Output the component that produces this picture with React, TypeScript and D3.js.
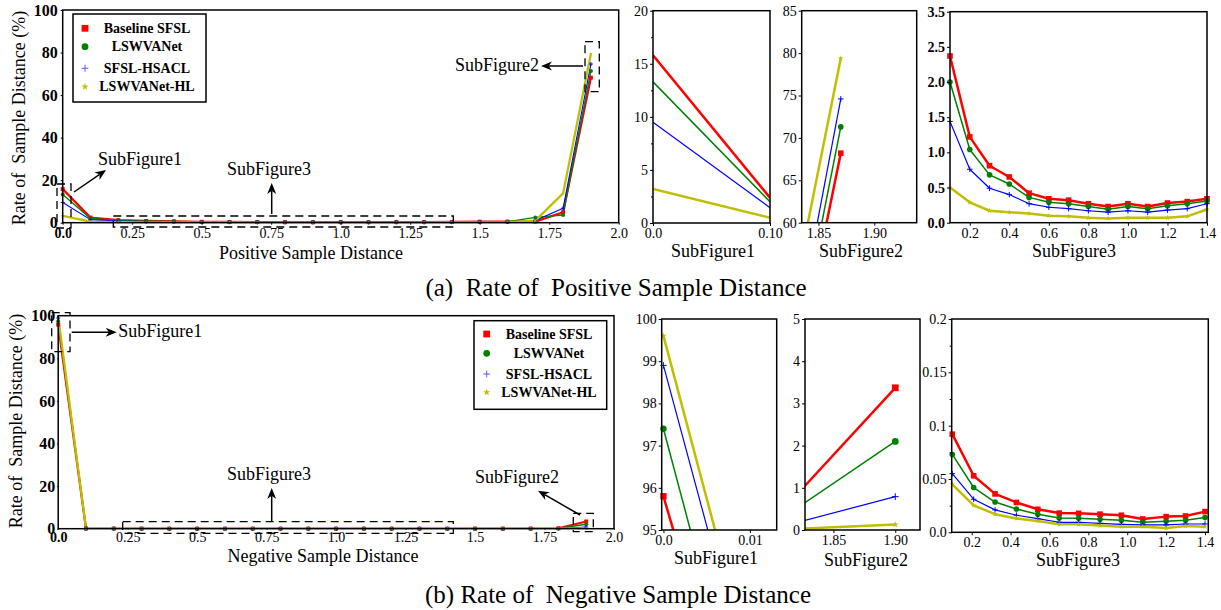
import React, { useRef, useEffect } from 'react';
import * as d3 from 'd3';

const seriesNames = ['Baseline SFSL', 'LSWVANet', 'SFSL-HSACL', 'LSWVANet-HL'];
const seriesColors = ['#ff0000', '#008000', '#0000ff', '#bfbf00'];
const lineWidths = [2.5, 1.5, 1.2, 2.5];
const markerShapes = ['square', 'circle', 'plus', 'star'];

// distance bins of the main panels
const distance = [0.0, 0.1, 0.2, 0.3, 0.4, 0.5, 0.6, 0.7, 0.8, 0.9, 1.0, 1.1, 1.2, 1.3, 1.4, 1.5, 1.6, 1.7, 1.8, 1.9];

// (a) positive sample distance, rate in %
const posBaseline = [15.8, 2.37, 1.22, 0.81, 0.65, 0.42, 0.34, 0.32, 0.27, 0.23, 0.27, 0.23, 0.28, 0.3, 0.34, 0.45, 0.5, 0.5, 4.9, 68.2];
const posLswva = [13.3, 2.0, 1.04, 0.68, 0.55, 0.36, 0.29, 0.27, 0.23, 0.19, 0.23, 0.2, 0.24, 0.27, 0.31, 0.4, 0.45, 2.5, 3.6, 71.3];
const posHsacl = [9.5, 1.44, 0.76, 0.49, 0.4, 0.27, 0.22, 0.2, 0.17, 0.15, 0.17, 0.15, 0.18, 0.2, 0.27, 0.3, 0.35, 1.0, 6.8, 74.6];
const posHl = [3.2, 0.5, 0.29, 0.17, 0.15, 0.13, 0.1, 0.09, 0.07, 0.06, 0.07, 0.07, 0.07, 0.09, 0.19, 0.2, 0.3, 1.0, 13.8, 79.4];

// subfigure 2 of (a) was plotted on its own x positions
const posSub2X = [1.8, 1.87];
const posSub2Baseline = [23.0, 68.2];
const posSub2Lswva = [24.7, 71.3];
const posSub2Hsacl = [26.0, 74.6];
const posSub2Hl = [33.3, 79.4];

// (b) negative sample distance, rate in %
const negBaseline = [95.8, 0.092, 0.053, 0.036, 0.028, 0.022, 0.018, 0.018, 0.017, 0.016, 0.013, 0.015, 0.015, 0.019, 0.02, 0.02, 0.03, 0.05, 0.19, 3.37];
const negLswva = [97.4, 0.073, 0.042, 0.028, 0.022, 0.017, 0.013, 0.013, 0.012, 0.011, 0.009, 0.01, 0.011, 0.014, 0.015, 0.015, 0.02, 0.03, 0.11, 2.1];
const negHsacl = [98.9, 0.055, 0.031, 0.021, 0.016, 0.013, 0.009, 0.009, 0.008, 0.0075, 0.007, 0.007, 0.008, 0.008, 0.01, 0.01, 0.01, 0.01, 0.02, 0.79];
const negHl = [99.6, 0.045, 0.025, 0.017, 0.013, 0.011, 0.0075, 0.0075, 0.006, 0.005, 0.005, 0.004, 0.006, 0.005, 0.005, 0.005, 0.005, 0.005, 0.0, 0.13];

// subfigure 1 of (b): first point and the value the line reaches at 0.01
const negSub1X = [0.0, 0.01];
const negSub1Baseline = [95.8, 88.8];
const negSub1Lswva = [97.4, 89.7];
const negSub1Hsacl = [98.9, 91.3];
const negSub1Hl = [99.6, 91.9];

// subfigure 3 of (b): 13 points spread over 0.1 .. 1.4
const negSub3X = [0.1, 0.21, 0.32, 0.43, 0.54, 0.65, 0.75, 0.86, 0.97, 1.08, 1.2, 1.3, 1.4];
const negSub3Baseline = [0.092, 0.053, 0.036, 0.028, 0.0216, 0.018, 0.0178, 0.017, 0.016, 0.0125, 0.0147, 0.0153, 0.0194];
const negSub3Lswva = [0.073, 0.042, 0.0284, 0.0219, 0.0169, 0.0134, 0.0131, 0.0122, 0.0113, 0.0094, 0.0103, 0.0113, 0.0138];
const negSub3Hsacl = [0.055, 0.031, 0.021, 0.016, 0.0128, 0.0094, 0.0094, 0.0084, 0.0075, 0.0069, 0.0069, 0.0078, 0.0078];
const negSub3Hl = [0.045, 0.0253, 0.017, 0.013, 0.0106, 0.0075, 0.0075, 0.0063, 0.0053, 0.0053, 0.004, 0.006, 0.0053];

// ticks
const mainXTicks = [0, 0.25, 0.5, 0.75, 1.0, 1.25, 1.5, 1.75, 2.0];
const mainXLabels = ['0.0', '0.25', '0.5', '0.75', '1.0', '1.25', '1.5', '1.75', '2.0'];
const mainYTicks = [0, 20, 40, 60, 80, 100];
const sub3XTicks = [0.2, 0.4, 0.6, 0.8, 1.0, 1.2, 1.4];
const sub3XLabels = ['0.2', '0.4', '0.6', '0.8', '1.0', '1.2', '1.4'];
const posSub3YTicks = [0, 0.5, 1.0, 1.5, 2.0, 2.5, 3.0];
const posSub3YLabels = ['0.0', '0.5', '1.0', '1.5', '2.0', '2.5', '3.5'];
const negSub3YTicks = [0, 0.05, 0.1, 0.15, 0.2];
const negSub3YLabels = ['0.0', '0.05', '0.1', '0.15', '0.2'];

const FONT = '"Liberation Serif", "Times New Roman", serif';

type Panel = {
  id: string;
  box: number[];
  xDomain: number[];
  yDomain: number[];
  xs: number[];
  ys: number[][];
  xTicks: number[];
  xLabels: string[];
  yTicks: number[];
  yLabels: string[];
  yMinor?: number[];
  markerR: number;
  tickFont: number;
  yFont?: number;
  yBold?: boolean;
  firstXBold?: boolean;
  lineScale?: number;
  tickLen?: number;
  pad?: number;
};

function drawMarker(g: any, shape: string, cx: number, cy: number, r: number, color: string) {
  if (shape === 'plus') {
    g.append('path')
      .attr('d', `M${cx - r},${cy}H${cx + r}M${cx},${cy - r}V${cy + r}`)
      .attr('stroke', color)
      .attr('stroke-width', 1);
    return;
  }
  let sym = d3.symbolSquare;
  let area = 4 * r * r;
  if (shape === 'circle') { sym = d3.symbolCircle; area = Math.PI * r * r; }
  if (shape === 'star') { sym = d3.symbolStar; area = (r * r * 1.1) / 0.89; }
  g.append('path')
    .attr('d', d3.symbol(sym, area)())
    .attr('transform', `translate(${cx},${cy})`)
    .attr('fill', color);
}

function drawPanel(svg: any, p: Panel) {
  const [l, r, t, b] = p.box;
  const x = d3.scaleLinear().domain(p.xDomain).range([l, r]);
  const y = d3.scaleLinear().domain(p.yDomain).range([b, t]);
  const tickLen = p.tickLen ?? 3;
  const pad = p.pad ?? 2;

  svg.append('defs').append('clipPath').attr('id', 'clip-' + p.id)
    .append('rect').attr('x', l).attr('y', t).attr('width', r - l).attr('height', b - t);

  const lineGen = d3.line<number[]>().x(d => x(d[0])).y(d => y(d[1]));
  const lines = svg.append('g').attr('clip-path', `url(#clip-${p.id})`);
  p.ys.forEach((vals, i) => {
    const pts = p.xs.map((v, j) => [v, vals[j]]);
    lines.append('path')
      .datum(pts)
      .attr('d', lineGen)
      .attr('fill', 'none')
      .attr('stroke', seriesColors[i])
      .attr('stroke-width', lineWidths[i] * (p.lineScale ?? 1))
      .attr('stroke-linejoin', 'round');
  });

  if (p.markerR > 0) {
    const mg = svg.append('g');
    const [x0, x1] = p.xDomain;
    const [y0, y1] = p.yDomain;
    p.ys.forEach((vals, i) => {
      p.xs.forEach((v, j) => {
        if (v < x0 - 1e-9 || v > x1 + 1e-9 || vals[j] < y0 || vals[j] > y1) return;
        drawMarker(mg, markerShapes[i], x(v), y(vals[j]), p.markerR, seriesColors[i]);
      });
    });
  }

  svg.append('rect')
    .attr('x', l).attr('y', t).attr('width', r - l).attr('height', b - t)
    .attr('fill', 'none').attr('stroke', '#000').attr('stroke-width', 1.5);

  const xAxis = svg.append('g')
    .attr('transform', `translate(0,${b})`)
    .call(d3.axisBottom(x).tickValues(p.xTicks).tickFormat((_d: any, i: number) => p.xLabels[i]).tickSize(tickLen).tickPadding(pad));
  const yAxis = svg.append('g')
    .attr('transform', `translate(${l},0)`)
    .call(d3.axisLeft(y).tickValues(p.yTicks).tickFormat((_d: any, i: number) => p.yLabels[i]).tickSize(tickLen).tickPadding(pad));
  [xAxis, yAxis].forEach(ax => {
    ax.select('.domain').remove();
    ax.selectAll('line').attr('stroke', '#000').attr('stroke-width', 1);
    ax.selectAll('text').attr('fill', '#000').style('font-family', FONT).style('font-size', `${p.tickFont}px`);
  });
  if (p.yFont) yAxis.selectAll('text').style('font-size', `${p.yFont}px`);
  if (p.yBold) yAxis.selectAll('text').style('font-weight', 'bold');
  if (p.firstXBold) xAxis.selectAll('text').filter((_d: any, i: number) => i === 0).style('font-weight', 'bold');

  if (p.yMinor) {
    const mAx = svg.append('g')
      .attr('transform', `translate(${l},0)`)
      .call(d3.axisLeft(y).tickValues(p.yMinor).tickFormat(() => '').tickSize(2));
    mAx.select('.domain').remove();
    mAx.selectAll('line').attr('stroke', '#000');
  }
}

function drawLegend(svg: any, bx: number, by: number, bw: number, bh: number, mx: number, tx: number, rows: number[]) {
  svg.append('rect')
    .attr('x', bx).attr('y', by).attr('width', bw).attr('height', bh)
    .attr('fill', '#fff').attr('stroke', '#000').attr('stroke-width', 1.5);
  const g = svg.append('g');
  seriesNames.forEach((name, i) => {
    const color = i === 2 ? '#5a5aff' : seriesColors[i];
    drawMarker(g, markerShapes[i], mx, rows[i], i === 3 ? 3.6 : 3.4, color);
    g.append('text')
      .attr('x', tx).attr('y', rows[i] + 4.5)
      .attr('text-anchor', 'middle')
      .style('font-family', FONT).style('font-size', '14px').style('font-weight', 'bold')
      .text(name);
  });
}

function arrow(svg: any, x1: number, y1: number, x2: number, y2: number) {
  const a = Math.atan2(y2 - y1, x2 - x1);
  const hl = 11;
  const hw = 4.5;
  const c = Math.cos(a);
  const s = Math.sin(a);
  const bx = x2 - hl * c;
  const by = y2 - hl * s;
  const nx = x2 - hl * 0.7 * c;
  const ny = y2 - hl * 0.7 * s;
  svg.append('line')
    .attr('x1', x1).attr('y1', y1).attr('x2', nx).attr('y2', ny)
    .attr('stroke', '#000').attr('stroke-width', 1.5);
  svg.append('path')
    .attr('d', `M${x2},${y2}L${bx + hw * s},${by - hw * c}L${nx},${ny}L${bx - hw * s},${by + hw * c}Z`)
    .attr('fill', '#000');
}

function dashedBox(svg: any, x: number, y: number, w: number, h: number) {
  svg.append('rect')
    .attr('x', x).attr('y', y).attr('width', w).attr('height', h)
    .attr('fill', 'none').attr('stroke', '#000').attr('stroke-width', 1.3)
    .attr('stroke-dasharray', '8,5');
}

function label(svg: any, x: number, y: number, text: string, size: number, anchor = 'middle', rotate = false) {
  const t = svg.append('text')
    .attr('text-anchor', anchor)
    .style('font-family', FONT).style('font-size', `${size}px`)
    .style('white-space', 'pre')
    .attr('fill', '#000')
    .text(text);
  if (rotate) t.attr('transform', `translate(${x},${y}) rotate(-90)`);
  else t.attr('x', x).attr('y', y);
}

const App = () => {
  const svgRef = useRef<SVGSVGElement>(null);

  useEffect(() => {
    const svg = d3.select(svgRef.current);
    svg.selectAll('*').remove();
    svg.append('rect').attr('width', 1221).attr('height', 610).attr('fill', '#fff');

    const pos = [posBaseline, posLswva, posHsacl, posHl];
    const neg = [negBaseline, negLswva, negHsacl, negHl];

    // ---- (a) positive ----
    drawPanel(svg, {
      id: 'a0', box: [62.7, 618.7, 10, 222.7], xDomain: [0, 2], yDomain: [0, 100],
      xs: distance, ys: pos,
      xTicks: mainXTicks, xLabels: mainXLabels,
      yTicks: mainYTicks, yLabels: mainYTicks.map(String),
      markerR: 2, tickFont: 14, yFont: 16, yBold: true, firstXBold: true, lineScale: 0.9,
      tickLen: 2, pad: 3,
    });
    drawPanel(svg, {
      id: 'a1', box: [653, 770, 10.7, 223], xDomain: [0, 0.1], yDomain: [0, 20],
      xs: distance.slice(0, 2), ys: pos.map(s => s.slice(0, 2)),
      xTicks: [0, 0.1], xLabels: ['0.0', '0.10'],
      yTicks: [0, 5, 10, 15, 20], yLabels: ['0', '5', '10', '15', '20'],
      yMinor: [2.5, 7.5, 12.5, 17.5],
      markerR: 0, tickFont: 14,
    });
    drawPanel(svg, {
      id: 'a2', box: [801.7, 916.7, 10.7, 222.7], xDomain: [1.835, 1.938], yDomain: [60, 85],
      xs: posSub2X, ys: [posSub2Baseline, posSub2Lswva, posSub2Hsacl, posSub2Hl],
      xTicks: [1.85, 1.9], xLabels: ['1.85', '1.90'],
      yTicks: [60, 65, 70, 75, 80, 85], yLabels: ['60', '65', '70', '75', '80', '85'],
      markerR: 2.8, tickFont: 14,
    });
    drawPanel(svg, {
      id: 'a3', box: [950, 1207, 11.7, 222.7], xDomain: [0.1, 1.4], yDomain: [0, 3.0],
      xs: distance.slice(1, 15), ys: pos.map(s => s.slice(1, 15)),
      xTicks: sub3XTicks, xLabels: sub3XLabels,
      yTicks: posSub3YTicks, yLabels: posSub3YLabels,
      markerR: 2.8, tickFont: 14, yBold: true,
    });

    drawLegend(svg, 73, 14, 133, 88, 85, 147, [28.3, 46.7, 68.3, 86.7]);

    label(svg, 25, 118, 'Rate of  Sample Distance (%)', 18, 'middle', true);
    label(svg, 311, 259, 'Positive Sample Distance', 18);
    label(svg, 713, 257, 'SubFigure1', 18);
    label(svg, 861, 257, 'SubFigure2', 18);
    label(svg, 1074, 257, 'SubFigure3', 18);
    label(svg, 616, 296, '(a)  Rate of  Positive Sample Distance', 25);

    dashedBox(svg, 57, 184, 14, 44);
    arrow(svg, 74, 192, 106, 170);
    label(svg, 98, 165, 'SubFigure1', 18, 'start');
    dashedBox(svg, 113.3, 216, 340, 11);
    arrow(svg, 271.7, 214, 271.7, 183);
    label(svg, 269, 175, 'SubFigure3', 18);
    dashedBox(svg, 585, 41.7, 14.3, 50);
    arrow(svg, 583, 66, 541, 66);
    label(svg, 539, 71, 'SubFigure2', 18, 'end');

    // ---- (b) negative ----
    drawPanel(svg, {
      id: 'b0', box: [58.2, 614, 315.7, 528.7], xDomain: [0, 2], yDomain: [0, 100],
      xs: distance, ys: neg,
      xTicks: mainXTicks, xLabels: mainXLabels,
      yTicks: mainYTicks, yLabels: mainYTicks.map(String),
      markerR: 2, tickFont: 14, yFont: 16, yBold: true, firstXBold: true, lineScale: 0.9,
      tickLen: 1, pad: 2,
    });
    drawPanel(svg, {
      id: 'b1', box: [661.7, 776.7, 319, 530], xDomain: [-0.0002, 0.0131], yDomain: [95, 100],
      xs: negSub1X, ys: [negSub1Baseline, negSub1Lswva, negSub1Hsacl, negSub1Hl],
      xTicks: [0, 0.01], xLabels: ['0.0', '0.01'],
      yTicks: [95, 96, 97, 98, 99, 100], yLabels: ['95', '96', '97', '98', '99', '100'],
      markerR: 3.2, tickFont: 14,
    });
    drawPanel(svg, {
      id: 'b2', box: [805, 920, 319, 530], xDomain: [1.827, 1.92], yDomain: [0, 5],
      xs: distance.slice(18), ys: neg.map(s => s.slice(18)),
      xTicks: [1.85, 1.9], xLabels: ['1.85', '1.90'],
      yTicks: [0, 1, 2, 3, 4, 5], yLabels: ['0', '1', '2', '3', '4', '5'],
      markerR: 3.4, tickFont: 14,
    });
    drawPanel(svg, {
      id: 'b3', box: [951.7, 1208.3, 319, 532.3], xDomain: [0.097, 1.417], yDomain: [0, 0.2],
      xs: negSub3X, ys: [negSub3Baseline, negSub3Lswva, negSub3Hsacl, negSub3Hl],
      xTicks: sub3XTicks, xLabels: sub3XLabels,
      yTicks: negSub3YTicks, yLabels: negSub3YLabels,
      yMinor: [0.025, 0.075, 0.125, 0.175],
      markerR: 2.8, tickFont: 14,
    });

    drawLegend(svg, 474, 320.7, 132.7, 88.6, 486.7, 549, [334, 353.3, 374, 392.3]);

    label(svg, 22, 421, 'Rate of  Sample Distance (%)', 18, 'middle', true);
    label(svg, 323, 562, 'Negative Sample Distance', 18);
    label(svg, 716, 564, 'SubFigure1', 18);
    label(svg, 866, 566, 'SubFigure2', 18);
    label(svg, 1078, 566, 'SubFigure3', 18);
    label(svg, 618, 603, '(b) Rate of  Negative Sample Distance', 25);

    dashedBox(svg, 51.7, 312.7, 18.3, 39);
    arrow(svg, 71.7, 332.3, 116.7, 332.3);
    label(svg, 118.3, 337, 'SubFigure1', 18, 'start');
    dashedBox(svg, 122.7, 521.7, 330.6, 11.6);
    arrow(svg, 271.7, 521, 271.7, 488);
    label(svg, 269, 480, 'SubFigure3', 18);
    dashedBox(svg, 573.3, 513.3, 20, 18.4);
    arrow(svg, 580, 515, 538, 490.7);
    label(svg, 475, 483, 'SubFigure2', 18, 'start');
  }, []);

  return (
    <svg
      ref={svgRef}
      width={1221}
      height={610}
      style={{ position: 'absolute', left: 0, top: 0, display: 'block' }}
    />
  );
};

export default App;
